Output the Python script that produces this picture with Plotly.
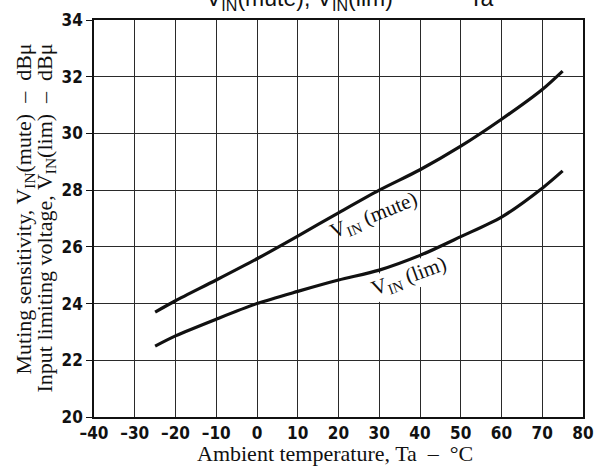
import plotly.graph_objects as go

# Data
temp = [-25, -20, -10, 0, 10, 20, 30, 40, 50, 60, 70, 75]
vin_mute = [23.7, 24.1, 24.83, 25.58, 26.38, 27.2, 28.0, 28.72, 29.55, 30.5, 31.55, 32.2]
vin_lim = [22.5, 22.86, 23.45, 24.0, 24.43, 24.83, 25.18, 25.7, 26.36, 27.05, 28.07, 28.68]

x_ticks = [-40, -30, -20, -10, 0, 10, 20, 30, 40, 50, 60, 70, 80]
x_labels = ["–40", "–30", "–20", "–10", "0", "10", "20", "30", "40", "50", "60", "70", "80"]
y_ticks = [20, 22, 24, 26, 28, 30, 32, 34]

W, H = 607, 468
L, R, T, B = 94, 24, 20, 51

def px2paper_x(px):
    return (px - L) / (W - L - R)

def px2paper_y(py):
    return (H - B - py) / (H - T - B)

fig = go.Figure()
for ys in (vin_mute, vin_lim):
    fig.add_trace(go.Scatter(x=temp, y=ys, mode="lines",
                             line=dict(color="#111111", width=3.2, shape="spline", smoothing=0.8),
                             showlegend=False, hoverinfo="skip"))

tickfont = dict(family="DejaVu Sans Condensed", size=17, color="#111111", weight="bold")
serif = "Liberation Serif"
INK = "#111111"

fig.update_layout(
    width=W, height=H,
    margin=dict(l=L, r=R, t=T, b=B),
    paper_bgcolor="white", plot_bgcolor="white",
    xaxis=dict(range=[-40, 80], tickvals=x_ticks, ticktext=x_labels,
               showgrid=True, gridcolor="#2a2a2a", gridwidth=1,
               showline=True, linecolor=INK, linewidth=1.5, mirror=True,
               ticks="", tickfont=tickfont, zeroline=False, automargin=False),
    yaxis=dict(range=[20, 34], tickvals=y_ticks,
               showgrid=True, gridcolor="#2a2a2a", gridwidth=1,
               showline=True, linecolor=INK, linewidth=1.5, mirror=True,
               ticks="outside", ticklen=6, tickcolor=INK, tickwidth=1,
               tickfont=tickfont, zeroline=False, automargin=False),
)

annotations = [
    dict(text="V<sub>IN</sub>(mute), V<sub>IN</sub>(lim)            Ta",
         xref="paper", yref="paper", x=px2paper_x(350), y=px2paper_y(0),
         xanchor="center", yanchor="middle", showarrow=False,
         font=dict(family="Liberation Sans", size=23, color=INK)),
    dict(text="Ambient temperature, Ta  –  °C",
         xref="paper", yref="paper", x=px2paper_x(335), y=px2paper_y(453),
         xanchor="center", yanchor="middle", showarrow=False,
         font=dict(family=serif, size=22, color=INK)),
    dict(text="Muting sensitivity, V<sub>IN</sub>(mute)  –  dBμ",
         xref="paper", yref="paper", x=px2paper_x(24), y=px2paper_y(42),
         xanchor="center", yanchor="top", textangle=-90, showarrow=False,
         font=dict(family=serif, size=22, color=INK)),
    dict(text="Input limiting voltage, V<sub>IN</sub>(lim)  –  dBμ",
         xref="paper", yref="paper", x=px2paper_x(45), y=px2paper_y(42),
         xanchor="center", yanchor="top", textangle=-90, showarrow=False,
         font=dict(family=serif, size=22, color=INK)),
    dict(text="V<sub>IN</sub> (mute)", x=28.6, y=27.08, xref="x", yref="y",
         textangle=-22, showarrow=False,
         font=dict(family=serif, size=21, color=INK)),
    dict(text="V<sub>IN</sub> (lim)", x=37.2, y=24.95, xref="x", yref="y",
         textangle=-20, showarrow=False, bgcolor="white", borderpad=0,
         font=dict(family=serif, size=21, color=INK)),
]
fig.update_layout(annotations=annotations)

# Remove the browser's default 8px body margin so the figure sits at the page origin
fig.write_html("out.html", config={"displayModeBar": False},
               post_script="document.body.style.margin='0';")
